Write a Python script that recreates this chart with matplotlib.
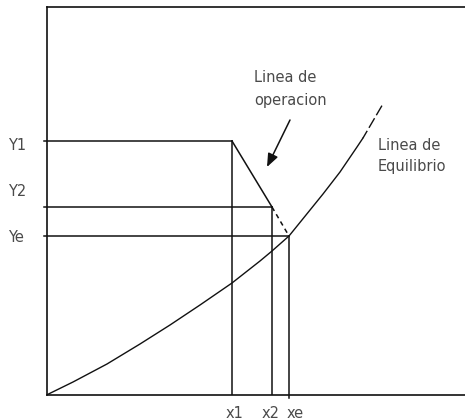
import matplotlib
matplotlib.use("Agg")
import matplotlib.pyplot as plt

# Schematic values (diagram units, origin at lower-left corner of the frame)
x_labels = ["x1", "x2", "xe"]
x_vals = [185.5, 225.5, 242.5]
y_labels = ["Y1", "Y2", "Ye"]
y_vals = [254, 188, 159]

# Equilibrium curve
eq_x = [0, 26.5, 60.5, 93.5, 123.5, 153.5, 185.5, 213.5, 225.5, 242.5,
        259.5, 276.5, 293.5, 310.5, 316.5]
eq_y = [0, 13, 31, 51, 70, 90, 112, 134, 144, 159,
        180, 201, 223, 248, 257]
eq_top_x = [316.5, 336.8]
eq_top_y = [257, 291.7]

fig = plt.figure(figsize=(4.65, 4.2), dpi=100)
ax = fig.add_axes([46.5 / 465, 25 / 420, 425 / 465, 388 / 420])
ax.set_xlim(0, 425)
ax.set_ylim(0, 388)
ax.set_xticks([])
ax.set_yticks([])
for s in ["left", "bottom", "top"]:
    ax.spines[s].set_linewidth(1.2)
    ax.spines[s].set_color("#111111")
ax.spines["right"].set_visible(False)

lc = "#111111"
lw = 1.1
txt = "#4a4a4a"
fs = 10.5

# Horizontal lines Y1, Y2, Ye to x1, x2, xe
for xv, yv in zip(x_vals, y_vals):
    ax.plot([-2.5, xv], [yv, yv], color=lc, lw=lw, clip_on=False)

# Vertical lines
ax.plot([x_vals[0], x_vals[0]], [0, y_vals[0]], color=lc, lw=lw)
ax.plot([x_vals[1], x_vals[1]], [0, y_vals[1]], color=lc, lw=lw)
ax.plot([x_vals[2], x_vals[2]], [-3, y_vals[2]], color=lc, lw=lw, clip_on=False)

# Operating line
ax.plot([x_vals[0], x_vals[1]], [y_vals[0], y_vals[1]], color=lc, lw=lw)
ax.plot([x_vals[1], x_vals[2]], [y_vals[1], y_vals[2]], color=lc, lw=lw,
        linestyle=(0, (3, 2.5)))

# Equilibrium curve
ax.plot(eq_x, eq_y, color=lc, lw=1.0)
ax.plot(eq_top_x, eq_top_y, color=lc, lw=1.0, linestyle=(2, (8, 2.5)))

# Arrow
ax.annotate("", xy=(220.5, 228), xytext=(243.5, 275),
            arrowprops=dict(arrowstyle="-|>,head_length=0.8,head_width=0.32",
                            color=lc, lw=1.1, shrinkA=0, shrinkB=0))

# Text labels
ax.text(207.5, 317, "Linea de", color=txt, fontsize=fs, va="center", ha="left")
ax.text(207.5, 295, "operacion", color=txt, fontsize=fs, va="center", ha="left")
ax.text(331.5, 250, "Linea de", color=txt, fontsize=fs, va="center", ha="left")
ax.text(331.5, 228, "Equilibrio", color=txt, fontsize=fs, va="center", ha="left")

y_label_pos = [249, 203, 158]
for lab, yp in zip(y_labels, y_label_pos):
    ax.text(-38.5, yp, lab, color=txt, fontsize=fs, va="center", ha="left")

x_label_pos = [188.5, 224.5, 248.5]
for lab, xp in zip(x_labels, x_label_pos):
    ax.text(xp, -18, lab, color=txt, fontsize=fs, va="center", ha="center")

fig.savefig("out.png", dpi=100)
